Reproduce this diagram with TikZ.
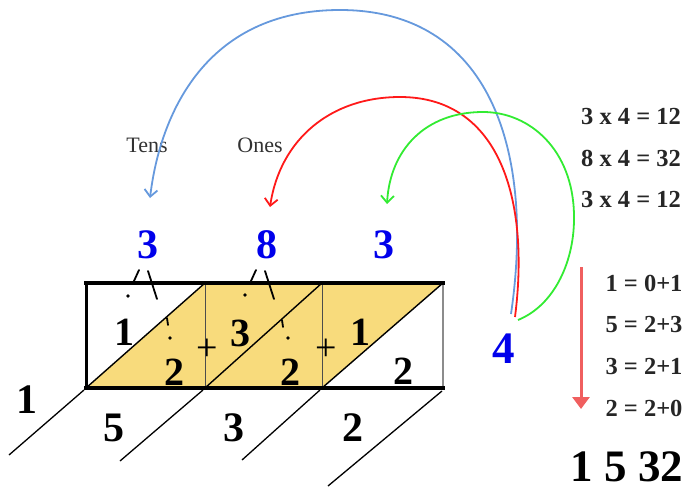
\documentclass[tikz,border=0pt]{standalone}
\usepackage{fontspec}
\setmainfont{Liberation Serif}
\usetikzlibrary{arrows.meta}
\definecolor{cellyellow}{RGB}{248,219,124}
\definecolor{digitblue}{RGB}{0,0,235}
\definecolor{arcblue}{RGB}{102,153,221}
\definecolor{arcred}{RGB}{255,25,25}
\definecolor{arcgreen}{RGB}{50,235,50}
\definecolor{downred}{RGB}{240,95,95}
\definecolor{labelgray}{RGB}{50,50,50}
\begin{document}
\begin{tikzpicture}[x=1pt,y=-1pt,
  dig/.style={font=\fontsize{42}{42}\selectfont\bfseries, inner sep=0pt},
  bdig/.style={dig, text=digitblue},
  cdig/.style={font=\fontsize{40}{40}\selectfont\bfseries, inner sep=0pt},
  plus/.style={font=\fontsize{38}{38}\selectfont, inner sep=0pt},
  eq/.style={font=\fontsize{24.5}{24.5}\selectfont\bfseries, inner sep=0pt, text=black!85},
  lbl/.style={font=\fontsize{22}{22}\selectfont, inner sep=0pt, text=labelgray},
  arcline/.style={line width=1.8pt, -{Straight Barb[length=7pt,width=13pt]}},
  thickborder/.style={line width=4pt},
  diag/.style={line width=1.4pt},
  thindiv/.style={line width=0.9pt, black!70},
  outer/.style={line width=1.3pt},
  tickmark/.style={line width=1.8pt, line cap=round},
]
\useasboundingbox (0,0) rectangle (691,490);

% grid corners
\coordinate (A) at (86,283);
\coordinate (B) at (205,283);
\coordinate (C) at (322,283);
\coordinate (D) at (443,283);
\coordinate (E) at (86,388);
\coordinate (F) at (205,388);
\coordinate (G) at (322,388);
\coordinate (H) at (443,388);

% yellow parallelogram
\fill[cellyellow] (E) -- (B) -- (D) -- (G) -- cycle;

% diagonals inside cells
\draw[diag] (E) -- (B);
\draw[diag] (F) -- (C);
\draw[diag] (G) -- (D);

% vertical dividers and right border
\draw[thindiv] (B) -- (F);
\draw[thindiv] (C) -- (G);
\draw[line width=1.8pt, black!45] (D) -- (H);

% thick borders
\draw[thickborder] (84,283) -- (445,283);
\draw[thickborder] (84,388) -- (445,388);
\draw[line width=3pt] (A) -- (E);

% diagonals below the grid
\coordinate (L1a) at (84,390); \coordinate (L1b) at (9,455);
\coordinate (L2a) at (203,390); \coordinate (L2b) at (120,461);
\coordinate (L3a) at (320,390); \coordinate (L3b) at (242,460);
\coordinate (L4a) at (442,391); \coordinate (L4b) at (328,486);
\draw[outer] (L1a) -- (L1b);
\draw[outer] (L2a) -- (L2b);
\draw[outer] (L3a) -- (L3b);
\draw[outer] (L4a) -- (L4b);

% small marks
\draw[tickmark] (134,281) -- (139,270);
\draw[tickmark] (148,271) -- (157,299);
\fill (128,296) circle (1.8);
\draw[tickmark] (167,318) -- (168,325);
\fill (170,338) circle (1.8);
\draw[tickmark] (251,281) -- (256,270);
\draw[tickmark] (265,271) -- (274,299);
\fill (245,295) circle (1.8);
\draw[tickmark] (282,320) -- (283,327);
\fill (288,338) circle (1.8);

% top multiplicand digits
\node[bdig] (t1) at (148,245) {3};
\node[bdig] (t2) at (267,245) {8};
\node[bdig] (t3) at (384,245) {3};
% multiplier
\node[bdig, font=\fontsize{45}{45}\selectfont\bfseries] (four) at (504,349) {4};

% cell digits
\node[cdig] (c1) at (124,332) {1};
\node[cdig] (c2) at (174,372) {2};
\node[plus] (p1) at (207,350) {+};
\node[cdig] (c3) at (240,333) {3};
\node[cdig] (c4) at (290,372) {2};
\node[plus] (p2) at (326,350) {+};
\node[cdig] (c5) at (360,332) {1};
\node[cdig] (c6) at (403,371) {2};

% result digits below
\node[dig] (r1) at (27,400) {1};
\node[dig] (r2) at (114,428) {5};
\node[dig] (r3) at (234,428) {3};
\node[dig] (r4) at (353,428) {2};

% labels
\node[lbl] (tens) at (147,145) {Tens};
\node[lbl] (ones) at (260,145) {Ones};

% arcs
\coordinate (bs) at (511,314);
\coordinate (be) at (150,198);
\coordinate (rs) at (515,317);
\coordinate (re) at (270,207);
\coordinate (gs) at (518,320);
\coordinate (ge) at (387,204);
\draw[arcline, arcblue] (bs) .. controls (535,150) and (490,10) .. (340,10)
   .. controls (205,10) and (160,115) .. (be);
\draw[arcline, arcred] (rs) .. controls (530,200) and (500,97) .. (400,97)
   .. controls (330,97) and (280,140) .. (re);
\draw[arcline, arcgreen] (gs) .. controls (555,305) and (575,260) .. (574,215)
   .. controls (573,150) and (530,112) .. (483,112)
   .. controls (425,112) and (390,150) .. (ge);

% equations
\node[eq] (e1) at (631,117) {3 x 4 = 12};
\node[eq] (e2) at (631,158) {8 x 4 = 32};
\node[eq] (e3) at (631,200) {3 x 4 = 12};
\node[eq] (s1) at (644,283) {1 = 0+1};
\node[eq] (s2) at (644,325) {5 = 2+3};
\node[eq] (s3) at (644,367) {3 = 2+1};
\node[eq] (s4) at (644,408) {2 = 2+0};

% down arrow
\coordinate (ds) at (581,267);
\coordinate (de) at (581,409);
\draw[downred, line width=3pt, -{Triangle[length=12pt,width=17pt]}] (ds) -- (de);

% final answer
\node[font=\fontsize{45}{45}\selectfont\bfseries, inner sep=0pt] (ans) at (627,467) {1 5 32};
\end{tikzpicture}
\end{document}
